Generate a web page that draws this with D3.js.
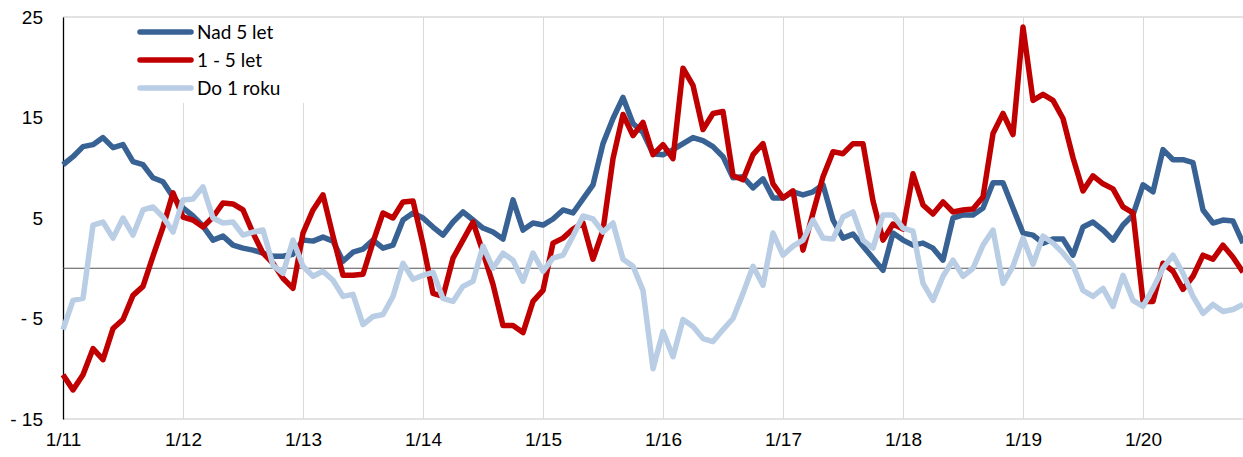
<!DOCTYPE html>
<html>
<head>
<meta charset="utf-8">
<script src="https://cdn.jsdelivr.net/npm/d3@7"></script>
<style>
  body { margin: 0; background: #fff; }
  svg { display: block; font-family: Lato, "Open Sans", sans-serif; }
  .axis text { font-size: 19px; fill: #000; }
</style>
</head>
<body>
<div id="chart"></div>
<script>
// monthly values, 1/11 .. 11/20
const seriesNames = [`Nad 5 let`, `1 - 5 let`, `Do 1 roku`];

const nad5 = [
  10.3, 11.1, 12.1, 12.3, 13.0, 12.0, 12.3, 10.6, 10.3, 9.0, 8.6, 7.1,
  6.0, 5.2, 4.2, 2.8, 3.2, 2.3, 2.0, 1.8, 1.5, 1.2, 1.2, 1.4,
  2.8, 2.7, 3.1, 2.7, 0.7, 1.6, 1.9, 2.8, 2.0, 2.3, 4.8, 5.5,
  5.0, 4.1, 3.3, 4.6, 5.6, 4.8, 4.0, 3.6, 2.9, 6.8, 3.8, 4.5,
  4.3, 4.9, 5.8, 5.5, 6.9, 8.3, 12.4, 14.9, 17.0, 14.4, 13.5, 11.4,
  11.3, 11.8, 12.4, 13.0, 12.7, 12.1, 11.1, 9.0, 9.1, 8.0, 8.9, 7.0,
  7.0, 7.6, 7.3, 7.6, 8.3, 4.8, 3.0, 3.4, 2.2, 1.0, -0.2, 3.5,
  2.8, 2.3, 2.5, 2.0, 0.8, 5.0, 5.3, 5.3, 6.0, 8.5, 8.5, 6.0,
  3.5, 3.3, 2.5, 2.9, 2.9, 1.3, 4.1, 4.6, 3.8, 2.8, 4.3, 5.3,
  8.3, 7.6, 11.8, 10.8, 10.8, 10.5, 5.8, 4.5, 4.8, 4.7, 2.5
];

const od1do5 = [
  -10.6, -12.1, -10.6, -8.0, -9.1, -6.0, -5.1, -2.7, -1.8, 1.2, 4.1, 7.5,
  5.1, 4.8, 4.1, 5.1, 6.5, 6.4, 5.8, 3.5, 1.5, 0.5, -1.0, -2.0,
  3.5, 5.8, 7.3, 3.2, -0.7, -0.7, -0.6, 2.6, 5.5, 5.0, 6.6, 6.7,
  2.4, -2.5, -2.8, 1.0, 2.8, 4.6, 1.6, -1.6, -5.7, -5.7, -6.4, -3.3,
  -2.2, 2.5, 3.0, 3.9, 4.5, 0.9, 3.8, 10.9, 15.3, 13.2, 14.5, 11.3,
  12.3, 10.9, 19.9, 18.2, 13.8, 15.4, 15.6, 9.2, 8.8, 11.3, 12.4, 8.4,
  7.0, 7.7, 1.8, 5.5, 9.1, 11.6, 11.4, 12.4, 12.4, 6.7, 2.8, 4.4,
  3.9, 9.4, 6.3, 5.4, 6.6, 5.6, 5.8, 5.9, 7.1, 13.4, 15.4, 13.3,
  24.0, 16.7, 17.3, 16.7, 14.9, 11.0, 7.7, 9.2, 8.4, 7.9, 6.1, 5.5,
  -3.3, -3.3, 0.5, -0.3, -2.1, -0.8, 1.3, 0.9, 2.3, 1.1, -0.4
];

const do1 = [
  -6.1, -3.2, -3.0, 4.3, 4.6, 3.0, 5.0, 3.3, 5.8, 6.1, 5.1, 3.6,
  6.8, 6.9, 8.1, 5.0, 4.5, 4.6, 3.3, 3.6, 3.8, 0.3, -0.5, 2.8,
  0.2, -0.8, -0.3, -1.2, -2.8, -2.6, -5.6, -4.8, -4.6, -2.8, 0.5, -1.1,
  -0.7, -0.4, -3.0, -3.3, -1.8, -1.3, 2.2, 0.0, 1.5, 0.8, -1.3, 1.5,
  -0.3, 1.0, 1.3, 3.2, 5.2, 4.9, 3.6, 4.5, 0.9, 0.2, -2.2, -10.0,
  -6.3, -8.8, -5.1, -5.8, -7.0, -7.3, -6.1, -5.0, -2.5, 0.2, -1.7, 3.5,
  1.3, 2.2, 2.8, 4.8, 3.0, 2.9, 5.1, 5.6, 2.8, 2.0, 5.3, 5.3,
  4.0, 3.7, -1.5, -3.2, -0.8, 0.8, -0.8, 0.0, 2.3, 3.8, -1.5, 0.2,
  3.0, 0.4, 3.2, 2.5, 1.5, 0.3, -2.2, -2.8, -2.0, -3.8, -0.7, -3.2,
  -3.8, -2.0, 0.0, 1.3, -0.5, -2.8, -4.5, -3.6, -4.3, -4.1, -3.6
];

const yTicks = [-15, -5, 5, 15, 25];
const yearLabels = [`1/11`, `1/12`, `1/13`, `1/14`, `1/15`, `1/16`, `1/17`, `1/18`, `1/19`, `1/20`];

const colors = [`#386194`, `#c00000`, `#b9cde5`];

const width = 1243;
const height = 457;
const margin = { top: 17, right: 0, bottom: 38, left: 63 };

const x = d3.scaleLinear()
  .domain([0, nad5.length - 1])
  .range([margin.left, width - margin.right]);

const y = d3.scaleLinear()
  .domain([-15, 25])
  .range([height - margin.bottom, margin.top]);

const svg = d3.select(`#chart`).append(`svg`)
    .attr(`width`, width)
    .attr(`height`, height);

// year gridlines
svg.append(`g`)
  .selectAll(`line`)
  .data(yearLabels.slice(1))
  .enter().append(`line`)
    .attr(`x1`, (d, i) => x((i + 1) * 12))
    .attr(`x2`, (d, i) => x((i + 1) * 12))
    .attr(`y1`, y(25))
    .attr(`y2`, y(-15))
    .attr(`stroke`, `#d9d9d9`)
    .attr(`stroke-width`, 1)
    .attr(`shape-rendering`, `crispEdges`);

// plot frame top + bottom
[25, -15].forEach((v) => {
  svg.append(`line`)
      .attr(`x1`, margin.left)
      .attr(`x2`, width)
      .attr(`y1`, y(v))
      .attr(`y2`, y(v))
      .attr(`stroke`, `#d9d9d9`)
      .attr(`stroke-width`, 1.5);
});

// y axis
const yAxis = svg.append(`g`)
    .attr(`class`, `axis`)
    .attr(`transform`, `translate(${margin.left},0)`)
    .call(d3.axisLeft(y)
      .tickValues(yTicks)
      .tickSize(0)
      .tickPadding(20)
      .tickFormat((d) => d < 0 ? `- ${-d}` : `${d}`));
yAxis.select(`.domain`).attr(`stroke`, `#000`).attr(`stroke-width`, 1.3);

// x labels
const xAxis = svg.append(`g`)
    .attr(`class`, `axis`)
    .attr(`transform`, `translate(0,${y(-15)})`)
    .call(d3.axisBottom(x)
      .tickValues(d3.range(0, 120, 12))
      .tickSize(0)
      .tickPadding(14)
      .tickFormat((d, i) => yearLabels[i]));
xAxis.select(`.domain`).remove();

// zero line
svg.append(`line`)
    .attr(`x1`, margin.left)
    .attr(`x2`, width)
    .attr(`y1`, y(0))
    .attr(`y2`, y(0))
    .attr(`stroke`, `#555`)
    .attr(`stroke-width`, 1.2);

const line = d3.line()
  .x((d, i) => x(i))
  .y((d) => y(d));

svg.append(`g`)
  .selectAll(`path`)
  .data([nad5, od1do5, do1])
  .enter().append(`path`)
    .attr(`d`, line)
    .attr(`fill`, `none`)
    .attr(`stroke`, (d, i) => colors[i])
    .attr(`stroke-width`, 5.5)
    .attr(`stroke-linejoin`, `round`);

// legend
const legend = svg.append(`g`);
legend.append(`rect`)
    .attr(`x`, 128)
    .attr(`y`, y(25) + 1)
    .attr(`width`, 190)
    .attr(`height`, 85)
    .attr(`fill`, `#fff`);

const item = legend.selectAll(`.item`)
  .data(seriesNames)
  .enter().append(`g`)
    .attr(`transform`, (d, i) => `translate(0,${32 + i * 28})`);

item.append(`line`)
    .attr(`x1`, 140)
    .attr(`x2`, 191)
    .attr(`stroke`, (d, i) => colors[i])
    .attr(`stroke-width`, 5.5)
    .attr(`stroke-linecap`, `round`);

item.append(`text`)
    .attr(`x`, 197)
    .attr(`dy`, `0.35em`)
    .attr(`font-size`, `19px`)
    .text((d) => d);
</script>
</body>
</html>
